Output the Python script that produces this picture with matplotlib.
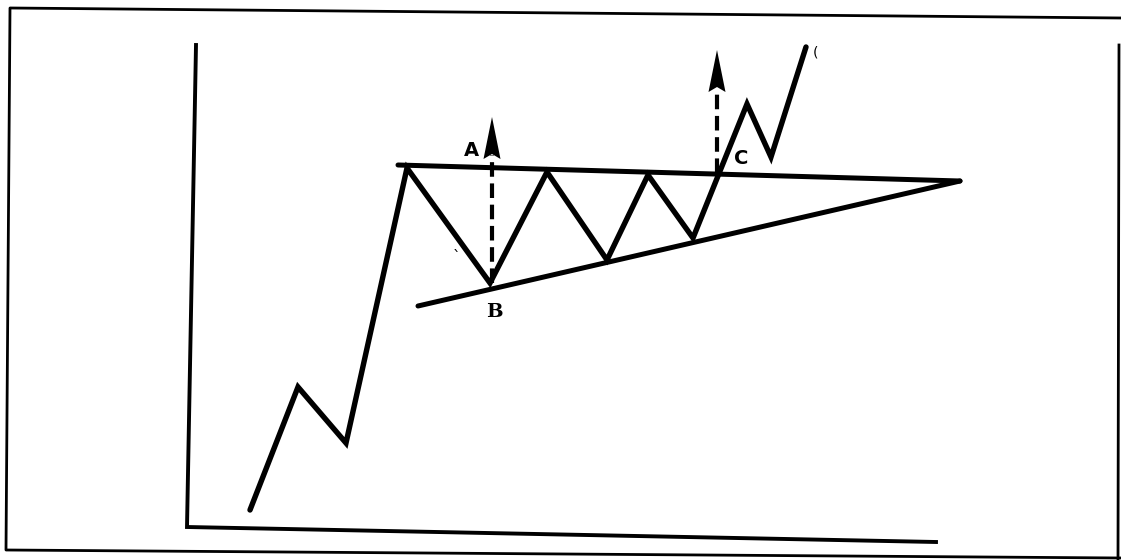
import matplotlib.pyplot as plt

# drawing is in pixel-like units: x = time, y = height from the bottom of the picture
H = 560

# price path (time, price)
price_x = [250, 298, 346, 407, 490, 547, 607, 648, 693, 747, 771, 806]
price_y = [50, 173, 117, 392, 277, 388, 300, 385, 322, 456, 403, 513]

# flat resistance line and rising support line meeting at the apex
resist_x = [398, 960]
resist_y = [395, 379]
support_x = [418, 960]
support_y = [254, 379]

# measured moves: dashed arrows (x, base, tip)
arrow_x = [492, 717]
arrow_base = [277, 387]
arrow_tip = [443, 510]

# labels
labels = ['A', 'B', 'C']
label_x = [471, 494, 741]
label_y = [409, 248, 401]
label_font = ['DejaVu Sans', 'DejaVu Serif', 'DejaVu Sans']

# chart axes
axis_x = [196, 187, 936]
axis_y = [515, 33, 18]

# scanned outer frame: left/top/bottom edges, and the right edge on its own
frame_x = [1121, 10, 6, 1121]
frame_y = [542, 552, 10, 2]
frame_right_x = [1119, 1118]
frame_right_y = [515, 0]

fig = plt.figure(figsize=(11.21, 5.6), dpi=100)
ax = fig.add_axes([0, 0, 1, 1])
ax.set_xlim(0, 1121)
ax.set_ylim(0, H)
ax.set_axis_off()

ax.plot(frame_x, frame_y, color='black', lw=2.0)
ax.plot(frame_right_x, frame_right_y, color='black', lw=2.0)
ax.plot(axis_x, axis_y, color='black', lw=2.8, solid_joinstyle='miter')

ax.plot(resist_x, resist_y, color='black', lw=3.6, solid_capstyle='round')
ax.plot(support_x, support_y, color='black', lw=3.6, solid_capstyle='round')
ax.plot(price_x, price_y, color='black', lw=3.9, solid_joinstyle='miter',
        solid_capstyle='round')

for x, y0, y1 in zip(arrow_x, arrow_base, arrow_tip):
    head = 42
    half = 8.5
    ax.plot([x, x], [y0, y1 - head + 4], color='black', lw=3.0,
            linestyle=(0, (3.5, 1.6)))
    ax.fill([x - half, x, x + half, x], [y1 - head, y1, y1 - head, y1 - head + 5],
            color='black', lw=0)

for t, x, y, f in zip(labels, label_x, label_y, label_font):
    ax.text(x, y, t, fontsize=14, fontweight='bold', family=f,
            ha='center', va='center')

# stray marks from the printed source
ax.text(457, 302, '`', fontsize=11, ha='center', va='center')
ax.text(816, 508, '(', fontsize=10, ha='center', va='center')

fig.savefig('out.png', dpi=100)
